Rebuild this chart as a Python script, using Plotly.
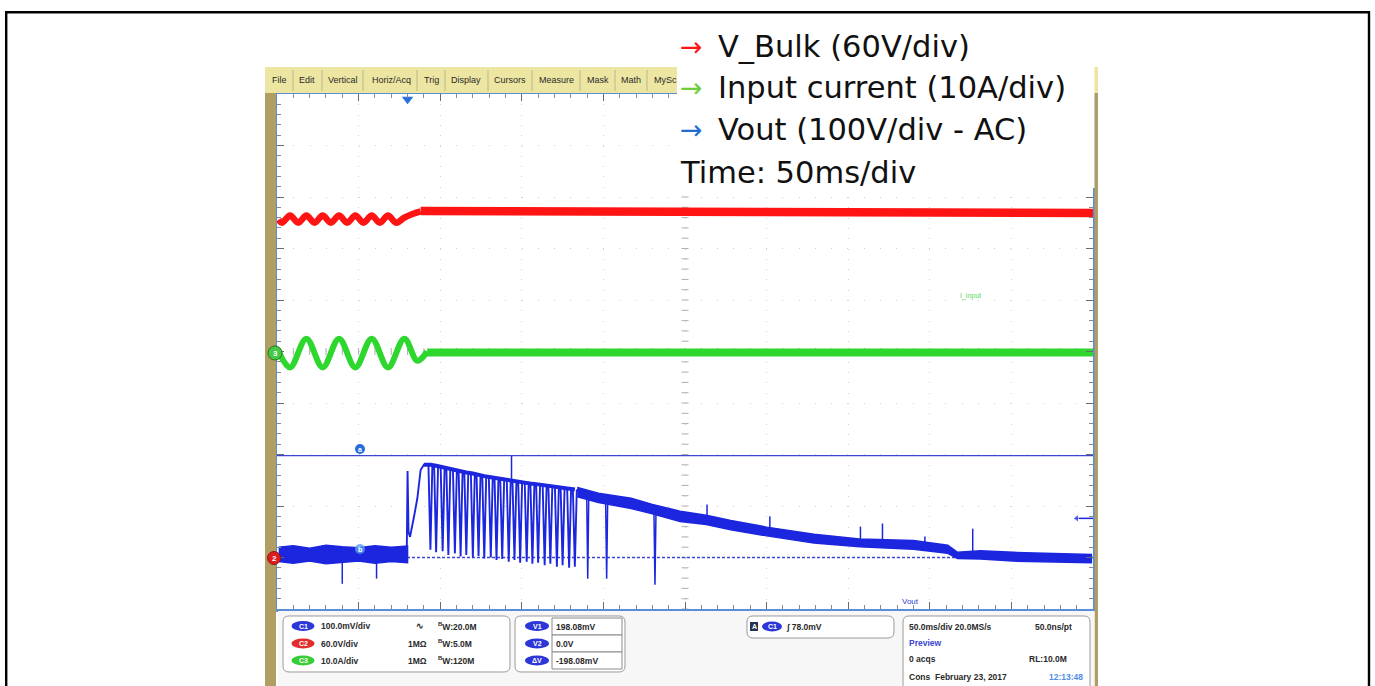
import numpy as np
import plotly.graph_objects as go

W, H = 1375, 686
PL, PR, PT, PB = 277, 1093, 94, 609   # plot area in pixels

# ---------------- data: time in ms (50 ms/div), amplitude in screen divisions ----------------
# V_Bulk (red) - 100 Hz ripple, then regulated plateau
red_t = [1, 3, 8, 13, 18, 23, 28, 33, 38, 43, 48, 53, 58, 63, 68, 73, 78, 83, 88]
red_v = [2.56, 2.50, 2.64, 2.50, 2.64, 2.50, 2.64, 2.50, 2.64, 2.50, 2.64, 2.50, 2.64, 2.50,
         2.64, 2.50, 2.60, 2.67, 2.72]
red_flat_t = [88, 250, 500]
red_flat_v = [2.73, 2.72, 2.69]

# Input current (green) - 50 Hz sine, then small ripple
green_t = [1, 8, 18, 28, 38, 48, 58, 68, 78, 86, 92]
green_v = [0.0, -0.31, 0.25, -0.31, 0.25, -0.31, 0.25, -0.31, 0.25, -0.18, 0.0]
green_flat_t = [92, 500]
green_flat_v = [-0.02, -0.02]

# Vout (blue) - noisy band before start-up
vout_pre_t = [1, 10, 20, 30, 40, 50, 60, 70, 80]
vout_pre_hi = [-3.80, -3.77, -3.82, -3.76, -3.79, -3.81, -3.77, -3.80, -3.78]
vout_pre_lo = [-4.08, -4.11, -4.07, -4.12, -4.09, -4.07, -4.11, -4.08, -4.10]
vout_pre_spike_t = [40, 61]
vout_pre_spike_v = [-4.51, -4.41]

# Vout start-up edge
vout_jump_t = [79.5, 80.0, 80.6, 81.5, 84.0, 86.0, 88.0, 90.0]
vout_jump_v = [-3.95, -2.32, -3.50, -3.60, -3.20, -2.85, -2.30, -2.20]

# Vout burst (hiccup) dips
burst_dip_t = [94, 97.5, 101.5, 105, 109, 112.5, 116, 120, 123.5, 127, 131, 134.5, 138,
               142, 145.5, 149, 153, 156.5, 160, 164, 167.5, 171.5, 175, 179, 182.5]
burst_top_v = [-2.20, -2.22, -2.25, -2.28, -2.30, -2.33, -2.35, -2.37, -2.40, -2.42, -2.44,
               -2.46, -2.48, -2.50, -2.52, -2.53, -2.55, -2.57, -2.58, -2.60, -2.62, -2.63,
               -2.65, -2.66, -2.68]
burst_dip_v = [-3.85, -3.90, -3.88, -3.95, -3.92, -3.98, -3.95, -4.00, -3.97, -4.02, -4.00,
               -4.05, -4.03, -4.08, -4.05, -4.10, -4.08, -4.12, -4.10, -4.15, -4.12, -4.18,
               -4.15, -4.20, -4.18]

# Vout slow decay band after burst
vout_env_t = [184, 197, 217, 230, 247, 263, 278, 300, 329, 357, 390, 411, 417, 431, 451, 499]
vout_env_hi = [-2.64, -2.75, -2.85, -2.97, -3.10, -3.18, -3.28, -3.41, -3.55, -3.64, -3.67,
               -3.76, -3.90, -3.87, -3.90, -3.94]
vout_env_lo = [-2.82, -2.93, -3.05, -3.15, -3.30, -3.36, -3.46, -3.58, -3.72, -3.79, -3.84,
               -3.92, -4.02, -4.03, -4.07, -4.10]
vout_dip_t = [190.4, 202.0, 231.6]
vout_dip_v = [-4.41, -4.41, -4.53]
vout_spike_t = [143.7, 263.5, 302.0, 357.5, 371.0, 397.0, 426.3]
vout_spike_v = [-2.03, -2.97, -3.20, -3.40, -3.34, -3.59, -3.44]

cursor_a = -2.02
cursor_b = -4.00
trigger_t = 80

legend_lines = [("→", "rgb(255,20,20)", "V_Bulk (60V/div)"),
                ("→", "rgb(110,205,60)", "Input current (10A/div)"),
                ("→", "rgb(30,110,210)", "Vout (100V/div - AC)"),
                ("", "", "Time: 50ms/div")]
menu_items = ["File", "Edit", "Vertical", "Horiz/Acq", "Trig", "Display", "Cursors",
              "Measure", "Mask", "Math", "MySc"]
menu_x = [279, 307, 343, 391, 431, 466, 510, 556, 598, 631, 665]
menu_sep = [293, 322, 363, 417, 445, 488, 532, 580, 615, 647]

RED = "rgb(255,20,20)"
GREEN = "rgb(45,215,45)"
BLUE = "rgb(28,38,222)"

# ---------------- helpers ----------------
def px(x):
    return (x - PL) / (PR - PL)

def py(y):
    return (PB - y) / (PB - PT)

shapes, annos = [], []

def rect(x0, y0, x1, y1, fill="rgba(0,0,0,0)", line="rgba(0,0,0,0)", w=0, layer="above"):
    shapes.append(dict(type="rect", xref="paper", yref="paper", x0=px(x0), x1=px(x1),
                       y0=py(y1), y1=py(y0), fillcolor=fill, line=dict(color=line, width=w),
                       layer=layer))

def ellipse(cx, cy, rx, ry, fill, line="rgba(0,0,0,0)", w=0):
    shapes.append(dict(type="circle", xref="paper", yref="paper", x0=px(cx - rx), x1=px(cx + rx),
                       y0=py(cy + ry), y1=py(cy - ry), fillcolor=fill,
                       line=dict(color=line, width=w), layer="above"))

def rrect(x0, y0, x1, y1, r, fill="white", line="#9a9a9a", w=1):
    def p(x, y):
        return f"{px(x):.6f},{py(y):.6f}"
    path = (f"M {p(x0 + r, y0)} L {p(x1 - r, y0)} Q {p(x1, y0)} {p(x1, y0 + r)} "
            f"L {p(x1, y1 - r)} Q {p(x1, y1)} {p(x1 - r, y1)} L {p(x0 + r, y1)} "
            f"Q {p(x0, y1)} {p(x0, y1 - r)} L {p(x0, y0 + r)} Q {p(x0, y0)} {p(x0 + r, y0)} Z")
    shapes.append(dict(type="path", xref="paper", yref="paper", path=path, fillcolor=fill,
                       line=dict(color=line, width=w), layer="above"))

def txt(x, y, s, size=8.5, color="#2a2a2a", anchor="left", bold=True, family="Liberation Sans"):
    if bold:
        s = f"<b>{s}</b>"
    annos.append(dict(x=px(x), y=py(y), xref="paper", yref="paper", text=s, showarrow=False,
                      xanchor=anchor, yanchor="middle", borderpad=0,
                      font=dict(size=size, color=color, family=family)))

def vline(x, y0, y1, color, w=1):
    shapes.append(dict(type="line", xref="paper", yref="paper", x0=px(x), x1=px(x),
                       y0=py(y0), y1=py(y1), line=dict(color=color, width=w), layer="above"))

# ---------------- traces ----------------
fig = go.Figure()

# graticule centre-line tick marks
cy_ticks = np.round(np.arange(-5, 5.01, 0.2), 2)
cx_ticks = np.arange(0, 501, 10)
fig.add_trace(go.Scatter(x=[250] * len(cy_ticks), y=cy_ticks, mode="markers", hoverinfo="skip",
                         marker=dict(symbol="line-ew", size=5, line=dict(color="#b0b0b0", width=1))))
fig.add_trace(go.Scatter(x=cx_ticks, y=[0] * len(cx_ticks), mode="markers", hoverinfo="skip",
                         marker=dict(symbol="line-ns", size=5, line=dict(color="#b0b0b0", width=1))))

# cursors
fig.add_trace(go.Scatter(x=[0, 500], y=[cursor_a, cursor_a], mode="lines",
                         line=dict(color="rgb(60,70,210)", width=1.3), hoverinfo="skip"))
fig.add_trace(go.Scatter(x=[0, 500], y=[cursor_b, cursor_b], mode="lines",
                         line=dict(color="rgb(60,70,210)", width=1.3, dash="3px,2px"),
                         hoverinfo="skip"))

# red
fig.add_trace(go.Scatter(x=red_t, y=red_v, mode="lines", line=dict(color=RED, width=6.5, shape="spline"),
                         hoverinfo="skip"))
fig.add_trace(go.Scatter(x=red_flat_t, y=red_flat_v, mode="lines", line=dict(color=RED, width=8.5),
                         hoverinfo="skip"))
# green
fig.add_trace(go.Scatter(x=green_t, y=green_v, mode="lines",
                         line=dict(color=GREEN, width=6, shape="spline"), hoverinfo="skip"))
fig.add_trace(go.Scatter(x=green_flat_t, y=green_flat_v, mode="lines", line=dict(color=GREEN, width=8),
                         hoverinfo="skip"))

# blue pre-band
fig.add_trace(go.Scatter(x=vout_pre_t + vout_pre_t[::-1], y=vout_pre_hi + vout_pre_lo[::-1],
                         mode="lines", fill="toself", fillcolor=BLUE, line=dict(color=BLUE, width=1.5),
                         hoverinfo="skip"))
# blue spikes (pre and post)
sx, sy = [], []
for t, v in zip(vout_pre_spike_t, vout_pre_spike_v):
    sx += [t, t, None]
    sy += [float(np.interp(t, vout_pre_t, vout_pre_lo)), v, None]
for t, v in zip(vout_dip_t, vout_dip_v):
    base = float(np.interp(t, vout_env_t, vout_env_lo))
    sx += [t - 0.6, t, t + 0.6, None]
    sy += [base, v, base, None]
for t, v in zip(vout_spike_t, vout_spike_v):
    if t > vout_env_t[0]:
        base = float(np.interp(t, vout_env_t, vout_env_hi))
    else:
        base = float(np.interp(t, burst_dip_t, burst_top_v))
    sx += [t, t, None]
    sy += [base, v, None]
fig.add_trace(go.Scatter(x=sx, y=sy, mode="lines", line=dict(color=BLUE, width=1.5), hoverinfo="skip"))

# blue jump + burst
bx, by = list(vout_jump_t), list(vout_jump_v)
for t, top, dip in zip(burst_dip_t, burst_top_v, burst_dip_v):
    bx += [t - 1.2, t, t + 1.2]
    by += [top, dip, top]
bx += [vout_env_t[0]]
by += [(vout_env_hi[0] + vout_env_lo[0]) / 2]
fig.add_trace(go.Scatter(x=bx, y=by, mode="lines", line=dict(color=BLUE, width=1.9), hoverinfo="skip"))
fig.add_trace(go.Scatter(x=[90] + burst_dip_t, y=[-2.2] + burst_top_v, mode="lines",
                         line=dict(color=BLUE, width=4), hoverinfo="skip"))

# blue decay band
fig.add_trace(go.Scatter(x=vout_env_t + vout_env_t[::-1], y=vout_env_hi + vout_env_lo[::-1],
                         mode="lines", fill="toself", fillcolor=BLUE, line=dict(color=BLUE, width=1.5),
                         hoverinfo="skip"))

# trigger marker and right-side reference arrow
fig.add_trace(go.Scatter(x=[trigger_t], y=[4.9], mode="markers", cliponaxis=False, hoverinfo="skip",
                         marker=dict(symbol="triangle-down", size=10, color="rgb(40,110,220)")))
fig.add_trace(go.Scatter(x=[490, 500], y=[-3.24, -3.24], mode="lines+markers", hoverinfo="skip",
                         line=dict(color=BLUE, width=1.5),
                         marker=dict(symbol=["triangle-left", "circle"], size=[7, 0], color=BLUE)))

# ---------------- decorations ----------------
# outer black frame
shapes.append(dict(type="rect", xref="paper", yref="paper", x0=px(6.2), x1=px(1369), y0=py(700),
                   y1=py(12.2), line=dict(color="black", width=2.4), layer="above"))
# screenshot chrome
rect(265, 67, 1098, 93, fill="rgb(237,229,162)")
for xs in menu_sep:
    vline(xs, 70, 91, "rgb(190,182,140)", 1)
for s, x in zip(menu_items, menu_x):
    txt(x, 80, s, size=9, color="#2b2b2b", anchor="center", bold=False)
rect(265, 93, 276, 686, fill="rgb(176,158,98)")
rect(1094.5, 93, 1098, 686, fill="rgb(176,158,98)")
rect(278, 611, 1094.5, 686, fill="rgb(247,247,247)")

# channel markers
ellipse(275, 353, 7, 7, "rgb(70,200,70)", "rgb(30,120,30)", 1)
txt(275, 353, "3", size=8, color="white", anchor="center")
ellipse(274, 558, 6.5, 6.5, "rgb(220,30,30)", "rgb(150,20,20)", 1)
txt(274, 558, "2", size=8, color="white", anchor="center")
# cursor labels
ellipse(360, 449, 5, 5, "rgb(40,110,220)")
txt(360, 449, "a", size=7, color="white", anchor="center")
ellipse(360, 549, 5, 5, "rgba(90,160,240,0.8)")
txt(360, 549, "b", size=7, color="white", anchor="center")
txt(910, 601, "Vout", size=8, color="rgb(40,60,210)", anchor="center", bold=False)
txt(970, 296, "I_input", size=7, color="rgb(90,215,90)", anchor="center", bold=False)

# status panel
rrect(283, 616, 510, 672, 6)
pill_y = [626, 643.5, 660.5]
for (lab, col), y in zip([("C1", "rgb(45,55,215)"), ("C2", "rgb(225,45,45)"), ("C3", "rgb(55,205,55)")], pill_y):
    ellipse(303, y, 11.5, 5, col)
    txt(303, y, lab, size=7, color="white", anchor="center")
for s, y in zip(["100.0mV/div", "60.0V/div", "10.0A/div"], pill_y):
    txt(320, y, s)
txt(415, 626, "∿", size=9)
txt(407, 643.5, "1MΩ")
txt(407, 660.5, "1MΩ")
for s, y in zip(["<sup>B</sup>W:20.0M", "<sup>B</sup>W:5.0M", "<sup>B</sup>W:120M"], pill_y):
    txt(437, y, s)

rrect(515, 616, 625, 672, 6)
for lab, y in zip(["V1", "V2", "ΔV"], pill_y):
    ellipse(537, y, 12, 5, "rgb(45,55,215)")
    txt(537, y, lab, size=7, color="white", anchor="center")
for (y0, y1), s in zip([(618, 635), (635, 652), (652, 669)], ["198.08mV", "0.0V", "-198.08mV"]):
    rect(552, y0, 622, y1, fill="white", line="#8a8a8a", w=1)
    txt(555, (y0 + y1) / 2, s)

rrect(747, 616, 894, 638, 6)
rect(750, 622, 758, 631, fill="rgb(40,50,80)")
txt(754, 626.5, "A", size=7, color="white", anchor="center")
ellipse(772, 626.5, 10, 5, "rgb(45,55,215)")
txt(772, 626.5, "C1", size=7, color="white", anchor="center")
txt(785, 626.5, "∫ 78.0mV")

rrect(903, 616, 1090, 692, 6)
txt(908, 627, "50.0ms/div 20.0MS/s")
txt(1073, 627, "50.0ns/pt", anchor="right")
txt(908, 643, "Preview", color="rgb(60,70,210)")
txt(908, 659, "0 acqs")
txt(1068, 659, "RL:10.0M", anchor="right")
txt(908, 677, "Cons  February 23, 2017")
txt(1084, 677, "12:13:48", color="rgb(80,140,230)", anchor="right")

# legend box overlaying the screenshot
rect(677, 15, 1094.5, 188, fill="white")
leg_y = [46.5, 87.5, 130, 172.5]
for (arrow, col, label), y in zip(legend_lines, leg_y):
    if arrow:
        txt(679, y, arrow, size=27, color=col, bold=False, family="DejaVu Sans")
        txt(717, y, label, size=30.5, color="#111111", bold=False, family="DejaVu Sans")
    else:
        txt(679, y, label, size=30.5, color="#111111", bold=False, family="DejaVu Sans")

# ---------------- layout ----------------
axis_common = dict(showticklabels=False, ticks="inside", ticklen=7, tickcolor="#6a6a6a", tickwidth=1,
                   showline=True, linecolor="rgb(92,142,214)", linewidth=3, mirror="ticks",
                   showgrid=True, gridcolor="#d0d0d0", gridwidth=1, zeroline=False, fixedrange=True)
fig.update_layout(
    width=W, height=H, margin=dict(l=PL, r=W - PR, t=PT, b=H - PB),
    paper_bgcolor="white", plot_bgcolor="white", showlegend=False,
    xaxis=dict(range=[0, 500], dtick=50, tick0=0, griddash="1px,9.3px",
               minor=dict(ticks="inside", ticklen=4, dtick=10, tickcolor="#8a8a8a", showgrid=False),
               **axis_common),
    yaxis=dict(range=[-5, 5], dtick=1, tick0=0, griddash="1px,15.3px",
               minor=dict(ticks="inside", ticklen=4, dtick=0.2, tickcolor="#8a8a8a", showgrid=False),
               **axis_common),
    shapes=shapes, annotations=annos,
)

fig.write_html("out.html", config={"displayModeBar": False},
               post_script="document.body.style.margin='0';document.body.style.overflow='hidden';")
